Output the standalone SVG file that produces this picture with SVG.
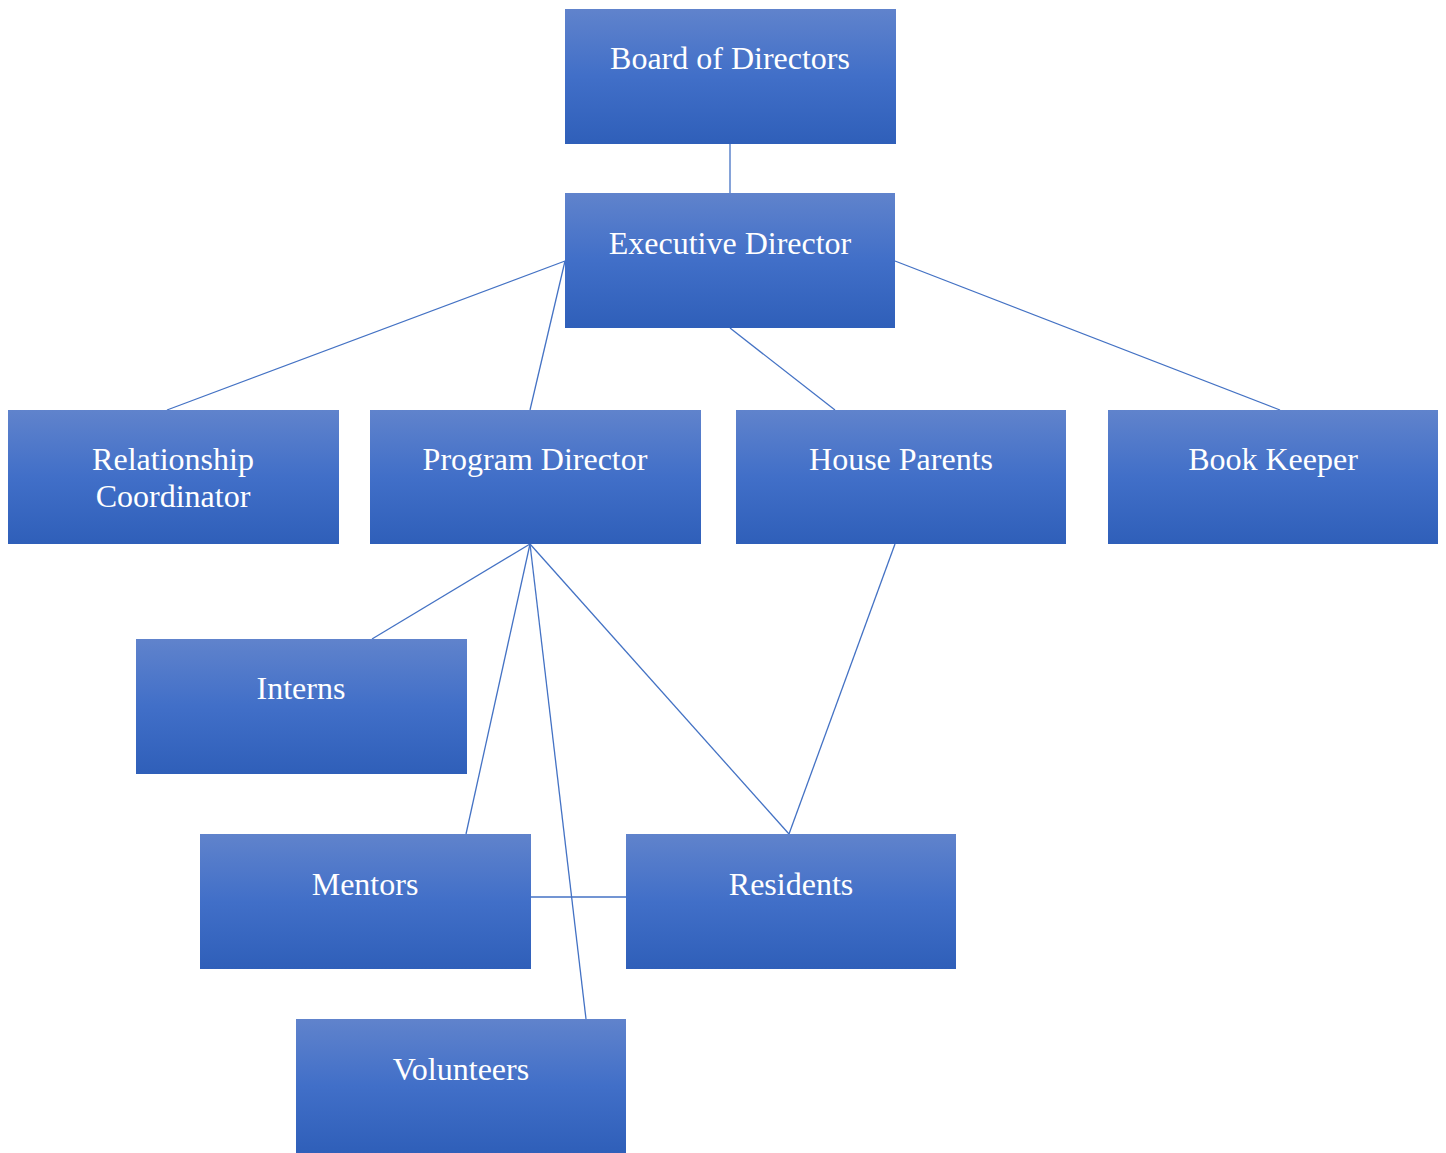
<svg xmlns="http://www.w3.org/2000/svg" width="1446" height="1153" viewBox="0 0 1446 1153">
<defs>
<linearGradient id="g" x1="0" y1="0" x2="0" y2="1">
<stop offset="0" stop-color="#6083cc"/>
<stop offset="0.5" stop-color="#416fc8"/>
<stop offset="1" stop-color="#2f5fb9"/>
</linearGradient>
<style>
.box{fill:url(#g);}
.t{font-family:"Liberation Serif","Times New Roman",serif;font-size:32px;fill:#ffffff;text-anchor:middle;}
.c{stroke:#4472c4;stroke-width:1.3;fill:none;}
</style>
</defs>
<rect width="1446" height="1153" fill="#ffffff"/>
<g id="connectors">
<line class="c" x1="730" y1="144" x2="730" y2="193"/>
<line class="c" x1="565" y1="261" x2="167" y2="410"/>
<line class="c" x1="565" y1="261" x2="530" y2="410"/>
<line class="c" x1="730" y1="328" x2="835" y2="410"/>
<line class="c" x1="895" y1="261" x2="1280" y2="410"/>
<line class="c" x1="530" y1="544" x2="372" y2="639"/>
<line class="c" x1="530" y1="544" x2="466" y2="834"/>
<line class="c" x1="530" y1="544" x2="586" y2="1019"/>
<line class="c" x1="530" y1="544" x2="789" y2="834"/>
<line class="c" x1="895" y1="544" x2="789" y2="834"/>
<line class="c" x1="531" y1="897" x2="626" y2="897"/>
</g>
<g id="board"><rect class="box" x="565" y="9" width="331" height="135"/><text class="t" x="730" y="69">Board of Directors</text></g>
<g id="exec"><rect class="box" x="565" y="193" width="330" height="135"/><text class="t" x="730" y="254">Executive Director</text></g>
<g id="relationship"><rect class="box" x="8" y="410" width="331" height="134"/><text class="t" x="173" y="470">Relationship</text><text class="t" x="173" y="507">Coordinator</text></g>
<g id="program"><rect class="box" x="370" y="410" width="331" height="134"/><text class="t" x="535" y="470">Program Director</text></g>
<g id="house"><rect class="box" x="736" y="410" width="330" height="134"/><text class="t" x="901" y="470">House Parents</text></g>
<g id="book"><rect class="box" x="1108" y="410" width="330" height="134"/><text class="t" x="1273" y="470">Book Keeper</text></g>
<g id="interns"><rect class="box" x="136" y="639" width="331" height="135"/><text class="t" x="301" y="699">Interns</text></g>
<g id="mentors"><rect class="box" x="200" y="834" width="331" height="135"/><text class="t" x="365" y="895">Mentors</text></g>
<g id="residents"><rect class="box" x="626" y="834" width="330" height="135"/><text class="t" x="791" y="895">Residents</text></g>
<g id="volunteers"><rect class="box" x="296" y="1019" width="330" height="134"/><text class="t" x="461" y="1080">Volunteers</text></g>
</svg>
